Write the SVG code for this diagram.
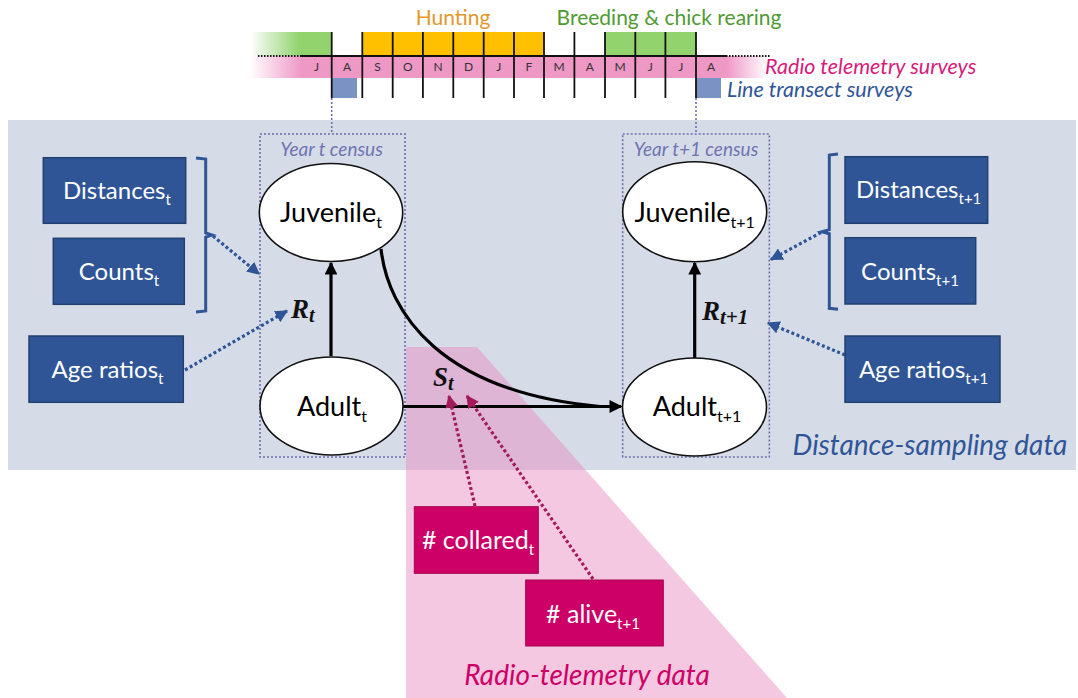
<svg xmlns="http://www.w3.org/2000/svg" width="1078" height="698" viewBox="0 0 1078 698">
<style>
text{font-family:"Lato","Open Sans","DejaVu Sans",sans-serif;}
.box{fill:#2F5597;stroke:#22406F;stroke-width:1.5;}
.boxt{fill:#fff;font-size:24px;text-anchor:middle;}
.magt{fill:#fff;font-size:25px;text-anchor:middle;}
.mag{fill:#CC0066;stroke:#A8004F;stroke-width:1;}
.ell{fill:#fff;stroke:#111;stroke-width:1.6;}
.ellt{fill:#000;font-size:27px;text-anchor:middle;}
.sub{font-size:15px;}
.esub{font-size:16px;}
.month{font-size:12px;fill:#333;text-anchor:middle;}
.vl{stroke:#111;stroke-width:1.8;}
.census{fill:none;stroke:#6F6FB0;stroke-width:1.6;stroke-dasharray:2 2;}
.censt{fill:#6F74B3;font-size:19px;font-style:italic;text-anchor:middle;}
.bdash{fill:none;stroke:#2F5597;stroke-width:3.2;stroke-dasharray:3 2.5;}
.mdash{fill:none;stroke:#A3195B;stroke-width:3.2;stroke-dasharray:3 2.5;}
.solid{fill:none;stroke:#000;stroke-width:3.2;}
.brace{fill:none;stroke:#2F5597;stroke-width:3;}
.math{font-family:"Liberation Serif","DejaVu Serif",serif;font-weight:bold;font-style:italic;fill:#111;}
</style>
<defs>
<linearGradient id="gGreen" x1="250" y1="0" x2="332" y2="0" gradientUnits="userSpaceOnUse">
<stop offset="0" stop-color="#92D36E" stop-opacity="0"/>
<stop offset="0.6" stop-color="#92D36E" stop-opacity="1"/>
<stop offset="1" stop-color="#92D36E" stop-opacity="1"/>
</linearGradient>
<linearGradient id="gPink" x1="250" y1="0" x2="768" y2="0" gradientUnits="userSpaceOnUse">
<stop offset="0" stop-color="#EE98C6" stop-opacity="0"/>
<stop offset="0.1" stop-color="#EE98C6" stop-opacity="1"/>
<stop offset="0.92" stop-color="#EE98C6" stop-opacity="1"/>
<stop offset="1" stop-color="#EE98C6" stop-opacity="0"/>
</linearGradient>
<marker id="aBlack" viewBox="0 0 10 10" refX="9" refY="5" markerWidth="4" markerHeight="4" orient="auto" markerUnits="strokeWidth">
<path d="M0,0 L10,5 L0,10 z" fill="#000"/>
</marker>
<marker id="aBlue" viewBox="0 0 10 10" refX="9" refY="5" markerWidth="4" markerHeight="4" orient="auto" markerUnits="strokeWidth">
<path d="M0,0 L10,5 L0,10 z" fill="#2F5597"/>
</marker>
<marker id="aMag" viewBox="0 0 10 10" refX="9" refY="5" markerWidth="4" markerHeight="4" orient="auto" markerUnits="strokeWidth">
<path d="M0,0 L10,5 L0,10 z" fill="#A3195B"/>
</marker>
</defs>
<rect width="1078" height="698" fill="#fff"/>
<!-- background panels -->
<rect id="distance-panel" x="8" y="120" width="1068" height="350" fill="#D6DCE7"/>
<polygon id="radio-panel" points="406,347 477,347 787,698 406,698" fill="#E985BC" fill-opacity="0.45"/>
<text x="930" y="455" font-size="28" font-style="italic" fill="#2F5597" text-anchor="middle">Distance-sampling data</text>
<text x="587" y="685" font-size="28" font-style="italic" fill="#CC0066" text-anchor="middle">Radio-telemetry data</text>

<!-- timeline -->
<g id="timeline">
<rect x="250" y="32" width="82" height="24" fill="url(#gGreen)"/>
<rect x="362.3" y="32" width="181.7" height="24" fill="#FFC000"/>
<rect x="605" y="32" width="91" height="24" fill="#92D36E"/>
<rect x="250" y="56" width="518" height="22" fill="url(#gPink)"/>
<rect x="332" y="78" width="25" height="20" fill="#7A92C4"/>
<rect x="696" y="78" width="25" height="20" fill="#7A92C4"/>
<line x1="300" y1="56" x2="726" y2="56" stroke="#111" stroke-width="2"/>
<line x1="258" y1="56" x2="300" y2="56" stroke="#111" stroke-width="2" stroke-dasharray="1.5 1.5"/>
<line x1="726" y1="56" x2="770" y2="56" stroke="#111" stroke-width="2" stroke-dasharray="1.5 1.5"/>
<g class="vl">
<line x1="331.7" y1="32" x2="331.7" y2="98"/>
<line x1="362.3" y1="32" x2="362.3" y2="98"/>
<line x1="392.7" y1="32" x2="392.7" y2="98"/>
<line x1="422.9" y1="32" x2="422.9" y2="98"/>
<line x1="453.3" y1="32" x2="453.3" y2="98"/>
<line x1="483.7" y1="32" x2="483.7" y2="98"/>
<line x1="514" y1="32" x2="514" y2="98"/>
<line x1="544" y1="32" x2="544" y2="98"/>
<line x1="574.4" y1="32" x2="574.4" y2="98"/>
<line x1="605" y1="32" x2="605" y2="98"/>
<line x1="635.3" y1="32" x2="635.3" y2="98"/>
<line x1="665.4" y1="32" x2="665.4" y2="98"/>
<line x1="696" y1="32" x2="696" y2="98"/>
</g>
<g>
<text class="month" x="316.5" y="71">J</text>
<text class="month" x="347" y="71">A</text>
<text class="month" x="377.5" y="71">S</text>
<text class="month" x="407.8" y="71">O</text>
<text class="month" x="438.1" y="71">N</text>
<text class="month" x="468.5" y="71">D</text>
<text class="month" x="498.8" y="71">J</text>
<text class="month" x="529" y="71">F</text>
<text class="month" x="559.2" y="71">M</text>
<text class="month" x="589.7" y="71">A</text>
<text class="month" x="620.1" y="71">M</text>
<text class="month" x="650.3" y="71">J</text>
<text class="month" x="680.7" y="71">J</text>
<text class="month" x="711" y="71">A</text>
</g>
<text x="453" y="25" font-size="21" fill="#E3982B" text-anchor="middle">Hunting</text>
<text x="669" y="25" font-size="21" fill="#4F9A33" text-anchor="middle">Breeding &amp; chick rearing</text>
<text x="765" y="74" font-size="21.5" font-style="italic" fill="#D81B7A">Radio telemetry surveys</text>
<text x="727" y="97" font-size="21.5" font-style="italic" fill="#2F5597">Line transect surveys</text>
<line x1="331.7" y1="98" x2="331.7" y2="134" stroke="#6F6FB0" stroke-width="1.6" stroke-dasharray="2 2"/>
<line x1="696" y1="98" x2="696" y2="134" stroke="#6F6FB0" stroke-width="1.6" stroke-dasharray="2 2"/>
</g>

<!-- census boxes -->
<g id="census-t">
<rect class="census" x="260" y="134" width="145" height="323"/>
<text class="censt" x="331.5" y="156">Year t census</text>
</g>
<g id="census-t1">
<rect class="census" x="622.7" y="134" width="146.6" height="323"/>
<text class="censt" x="696" y="156">Year t+1 census</text>
</g>

<!-- connectors -->
<g id="connectors">
<line class="solid" x1="331" y1="356" x2="331" y2="263" marker-end="url(#aBlack)"/>
<line class="solid" x1="694.7" y1="358" x2="694.7" y2="263" marker-end="url(#aBlack)"/>
<line class="solid" x1="403" y1="406.5" x2="621" y2="406.5" marker-end="url(#aBlack)"/>
<path class="solid" d="M381,249 C388,312 440,392 600,406.5"/>
<path class="brace" d="M196,158 L205.7,159 L205.7,233 L212,235 L205.7,237 L205.7,311 L196,312"/>
<path class="brace" d="M838,154 L829.3,155 L829.3,229.7 L822,231.7 L829.3,233.7 L829.3,308.3 L838,309.3"/>
<line class="bdash" x1="213" y1="236" x2="259" y2="274" marker-end="url(#aBlue)"/>
<line class="bdash" x1="185" y1="370" x2="287" y2="311" marker-end="url(#aBlue)"/>
<line class="bdash" x1="821" y1="232.5" x2="771" y2="259.5" marker-end="url(#aBlue)"/>
<line class="bdash" x1="845" y1="355" x2="768" y2="323" marker-end="url(#aBlue)"/>
<line class="mdash" x1="475" y1="506" x2="449" y2="396" marker-end="url(#aMag)"/>
<line class="mdash" x1="593" y1="579" x2="467" y2="396" marker-end="url(#aMag)"/>
</g>

<!-- parameter labels -->
<g id="label-Rt"><text class="math" x="291" y="318" font-size="27">R<tspan font-size="20" dy="4">t</tspan></text></g>
<g id="label-Rt1"><text class="math" x="702" y="320" font-size="27">R<tspan font-size="21" dy="4">t+1</tspan></text></g>
<g id="label-St"><text class="math" x="433" y="386" font-size="27">S<tspan font-size="20" dy="4">t</tspan></text></g>

<!-- nodes -->
<g id="juvenile-t">
<ellipse class="ell" cx="331" cy="212.5" rx="71.7" ry="49"/>
<text class="ellt" x="331" y="222">Juvenile<tspan class="esub" dy="6">t</tspan></text>
</g>
<g id="adult-t">
<ellipse class="ell" cx="331.5" cy="406" rx="71.5" ry="49"/>
<text class="ellt" x="332" y="416">Adult<tspan class="esub" dy="6">t</tspan></text>
</g>
<g id="juvenile-t1">
<ellipse class="ell" cx="694.7" cy="211.7" rx="72" ry="50"/>
<text class="ellt" x="694.7" y="222">Juvenile<tspan class="esub" dy="6">t+1</tspan></text>
</g>
<g id="adult-t1">
<ellipse class="ell" cx="694.5" cy="407" rx="72" ry="49"/>
<text class="ellt" x="697" y="416">Adult<tspan class="esub" dy="6">t+1</tspan></text>
</g>

<g id="distances-t">
<rect class="box" x="43.3" y="157.7" width="142.4" height="65.6"/>
<text class="boxt" x="117" y="199">Distances<tspan class="sub" dy="6">t</tspan></text>
</g>
<g id="counts-t">
<rect class="box" x="53.3" y="238.3" width="131" height="66"/>
<text class="boxt" x="119" y="280">Counts<tspan class="sub" dy="6">t</tspan></text>
</g>
<g id="ageratios-t">
<rect class="box" x="29" y="336" width="154.3" height="66.3"/>
<text class="boxt" x="107.5" y="378">Age ratios<tspan class="sub" dy="6">t</tspan></text>
</g>
<g id="distances-t1">
<rect class="box" x="845" y="156.7" width="142.7" height="66.6"/>
<text class="boxt" x="918.7" y="198">Distances<tspan class="sub" dy="6">t+1</tspan></text>
</g>
<g id="counts-t1">
<rect class="box" x="845" y="237.7" width="130.7" height="66.3"/>
<text class="boxt" x="910" y="280">Counts<tspan class="sub" dy="6">t+1</tspan></text>
</g>
<g id="ageratios-t1">
<rect class="box" x="845" y="336" width="155" height="66.3"/>
<text class="boxt" x="923.5" y="378">Age ratios<tspan class="sub" dy="6">t+1</tspan></text>
</g>
<g id="collared-t">
<rect class="mag" x="414.3" y="506.7" width="124" height="66.6"/>
<text class="magt" x="478" y="549"># collared<tspan class="sub" dy="6">t</tspan></text>
</g>
<g id="alive-t1">
<rect class="mag" x="525.7" y="580" width="137.6" height="66"/>
<text class="magt" x="593" y="623"># alive<tspan class="sub" dy="6">t+1</tspan></text>
</g>
</svg>
